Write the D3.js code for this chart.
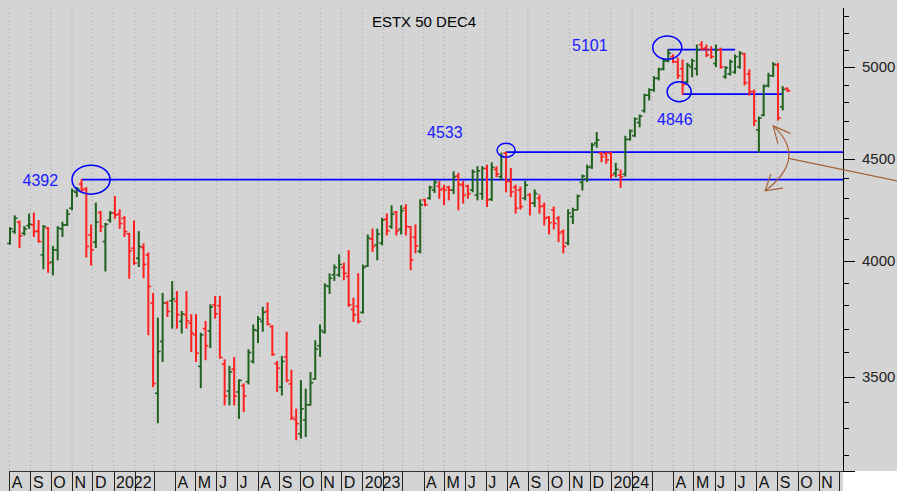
<!DOCTYPE html>
<meta charset="utf-8">
<html>
<style>
 body { margin:0; background:#fff; }
 svg { display:block; font-family:"Liberation Sans", Arial, sans-serif; }
</style>
<script src="https://d3js.org/d3.v7.min.js"></script>
<svg width="897" height="491"></svg>
<script>
// weekly bars, one per Monday from 2 Aug 2021 to 16 Sep 2024
const weeks = d3.timeMonday.range(new Date(2021, 7, 2), new Date(2024, 8, 17));

const openP = [4081,4137,4182,4129,4166,4169,4140,4028,4153,3994,
 4051,4149,4169,4250,4329,4370,4345,4121,4087,4229,
 4090,4193,4226,4221,4201,4126,4059,4012,4062,4028,
 3811,3435,3646,3811,3821,3818,3731,3760,3724,3674,
 3543,3700,3690,3803,3799,3552,3444,3532,3440,3465,
 3481,3563,3692,3731,3774,3709,3554,3459,3581,3472,
 3333,3278,3331,3389,3492,3628,3685,3884,3936,3936,
 3970,3929,3783,3796,3770,3977,4101,4075,4083,4196,
 4161,4231,4149,4250,4160,4110,4044,4291,4299,4340,
 4359,4347,4353,4340,4410,4364,4359,4340,4315,4322,
 4449,4294,4444,4407,4528,4383,4353,4340,4299,4315,
 4275,4299,4262,4206,4242,4201,4137,4083,4209,4242,
 4378,4396,4458,4581,4528,4524,4528,4424,4415,4420,
 4600,4620,4690,4755,4840,4870,4935,4990,5035,5060,
 5030,4990,4915,5000,4990,5130,5110,5100,5020,5100,
 4945,4960,4970,5000,5075,4960,4860,4651,4730,4895,
 4950,5010,4776,4878];
const highP = [4156,4213,4188,4161,4221,4226,4190,4166,4156,4067,
 4161,4182,4242,4345,4352,4392,4352,4169,4275,4234,
 4176,4234,4307,4242,4209,4129,4188,4137,4079,4037,
 3853,3745,3853,3818,3906,3861,3774,3861,3760,3760,
 3681,3731,3803,3840,3840,3570,3543,3579,3488,3472,
 3611,3716,3752,3792,3811,3713,3563,3584,3685,3527,
 3373,3485,3451,3518,3649,3716,3896,3941,3981,4028,
 3990,4048,3832,3941,3981,4121,4149,4149,4201,4222,
 4262,4234,4262,4267,4161,4169,4291,4294,4359,4388,
 4383,4364,4359,4432,4424,4383,4364,4441,4458,4458,
 4466,4478,4458,4528,4533,4449,4364,4355,4383,4322,
 4340,4315,4275,4209,4256,4209,4145,4242,4250,4315,
 4415,4466,4580,4637,4532,4532,4533,4475,4441,4617,
 4651,4715,4731,4846,4876,4945,4993,5045,5101,5070,
 5050,5040,5021,5045,5128,5147,5128,5118,5128,5109,
 5002,5040,5069,5089,5079,4983,4869,4720,4897,4964,
 5025,5021,4888,4880];
const lowP = [4078,4129,4062,4121,4153,4114,4087,3964,3948,3936,
 4005,4114,4166,4242,4307,4331,4018,3981,4062,4137,
 3954,4182,4201,4153,4114,3921,3984,3974,3923,3674,
 3461,3320,3563,3752,3702,3702,3681,3702,3604,3563,
 3457,3570,3620,3745,3577,3389,3389,3389,3337,3363,
 3472,3557,3641,3689,3716,3588,3442,3428,3481,3333,
 3256,3262,3268,3389,3491,3584,3681,3853,3911,3929,
 3914,3796,3731,3724,3767,3974,4044,4005,4075,4121,
 4153,4121,4126,4121,3959,4037,4037,4262,4294,4328,
 4299,4267,4291,4322,4242,4275,4299,4331,4291,4294,
 4258,4288,4407,4391,4331,4307,4226,4246,4291,4217,
 4258,4226,4169,4126,4150,4090,4037,4075,4176,4242,
 4340,4383,4449,4559,4484,4475,4400,4407,4353,4410,
 4597,4616,4667,4747,4814,4862,4926,4983,5030,5025,
 4935,4846,4909,4944,4954,5099,5060,5051,5002,4993,
 4936,4954,4964,4993,4898,4841,4674,4533,4726,4887,
 4945,4704,4759,4860];
const closeP = [4150,4201,4117,4150,4172,4137,4090,4161,3990,4051,
 4153,4169,4221,4335,4345,4340,4067,4051,4182,4161,
 4172,4226,4217,4176,4137,4047,3990,4067,3984,3884,
 3474,3604,3811,3774,3828,3760,3763,3734,3681,3597,
 3674,3628,3794,3763,3579,3424,3520,3424,3486,3424,
 3600,3695,3741,3770,3719,3592,3536,3563,3486,3340,
 3317,3374,3390,3477,3614,3692,3888,3921,3970,3984,
 3943,3803,3760,3731,3970,4106,4067,4126,4193,4141,
 4221,4141,4238,4161,4005,4070,4267,4267,4353,4378,
 4340,4340,4340,4407,4369,4315,4322,4432,4437,4449,
 4291,4454,4420,4510,4383,4331,4250,4258,4364,4275,
 4322,4258,4201,4180,4176,4129,4067,4226,4242,4310,
 4410,4454,4571,4597,4510,4493,4415,4444,4407,4600,
 4645,4710,4725,4840,4870,4935,4985,5035,5080,5030,
 4950,4900,5010,5035,5100,5105,5070,5060,5100,5000,
 4995,5030,5060,5080,4910,4860,4700,4715,4890,4950,
 5015,4715,4872,4865];

const majorTicks = [3500, 4000, 4500, 5000];
const minorTicks = [3200,3300,3400,3600,3700,3800,3900,4100,4200,4300,4400,4600,4700,4800,4900,5100,5200,5300];
const monthLetters = ["J","F","M","A","M","J","J","A","S","O","N","D"];

// drawn levels: price, first week index, last week index (null = run to axis)
const levels = [
  {price:4392, from:15, to:null, label:"4392"},
  {price:4533, from:104, to:null, label:"4533"},
  {price:5101, from:138, to:152, label:"5101"},
  {price:4846, from:141, to:162, label:"4846"}
];

const W = 897, H = 491;
const plotTop = 8, plotBottom = 471, axisX = 843;
const svg = d3.select('svg');

const x = d3.scaleTime()
  .domain([new Date(2021, 7, 1), new Date(2024, 11, 1)])
  .range([9.3, 839.3]);
const y = d3.scaleLog()
  .domain([3141, 5351])
  .range([plotBottom, plotTop]);

// background
svg.append('rect').attr('width', W).attr('height', H).attr('fill', '#d4d4d4');
svg.append('rect').attr('x', axisX).attr('y', plotBottom).attr('width', W - axisX).attr('height', H - plotBottom).attr('fill', '#fff');

const months = d3.timeMonth.range(new Date(2021, 7, 1), new Date(2024, 11, 1));

// dotted month grid
svg.append('g').selectAll('line').data(months).join('line')
  .attr('x1', d => x(d)).attr('x2', d => x(d))
  .attr('y1', plotTop).attr('y2', plotBottom)
  .attr('stroke', '#b9b9b9').attr('stroke-width', 1)
  .attr('stroke-dasharray', '2,2');

// month strip
const strip = svg.append('g');
strip.append('line')
  .attr('x1', x(months[0])).attr('x2', axisX)
  .attr('y1', plotBottom + 0.5).attr('y2', plotBottom + 0.5)
  .attr('stroke', '#333');
strip.selectAll('line.sep').data(months.concat([new Date(2024, 11, 1)])).join('line')
  .attr('class', 'sep')
  .attr('x1', d => Math.round(x(d)) + 0.5).attr('x2', d => Math.round(x(d)) + 0.5)
  .attr('y1', plotBottom).attr('y2', H)
  .attr('stroke', '#222');
strip.selectAll('text').data(months).join('text')
  .attr('x', d => x(d) + 2.5)
  .attr('y', 488)
  .attr('font-size', 16)
  .attr('fill', '#111')
  .text(d => {
    const m = d.getMonth();
    if (m === 0) return d.getFullYear();
    if (m === 1 || m === 2) return "";
    return monthLetters[m];
  });

// right axis
const axis = svg.append('g');
axis.append('line').attr('x1', axisX + 0.5).attr('x2', axisX + 0.5)
  .attr('y1', plotTop).attr('y2', plotBottom).attr('stroke', '#000');
axis.append('line').attr('x1', axisX).attr('x2', axisX + 12)
  .attr('y1', plotBottom + 0.5).attr('y2', plotBottom + 0.5).attr('stroke', '#000');
axis.selectAll('line.minor').data(minorTicks).join('line')
  .attr('class', 'minor')
  .attr('x1', axisX).attr('x2', axisX + 6)
  .attr('y1', d => Math.round(y(d)) + 0.5).attr('y2', d => Math.round(y(d)) + 0.5)
  .attr('stroke', '#000');
axis.selectAll('line.major').data(majorTicks).join('line')
  .attr('class', 'major')
  .attr('x1', axisX).attr('x2', axisX + 12)
  .attr('y1', d => Math.round(y(d)) + 0.5).attr('y2', d => Math.round(y(d)) + 0.5)
  .attr('stroke', '#000');
// labels squeezed a little so the whole number stays inside the window
axis.selectAll('text').data(majorTicks).join('text')
  .attr('x', 862)
  .attr('y', d => y(d) + 5.5)
  .attr('font-size', 15)
  .attr('fill', '#222')
  .text(d => d);

// title
svg.append('text')
  .attr('x', 424).attr('y', 27)
  .attr('text-anchor', 'middle')
  .attr('font-size', 15)
  .attr('fill', '#000')
  .text('ESTX 50 DEC4');

// level lines (under the bars)
const blue = '#0000ff';
svg.append('g').selectAll('line').data(levels).join('line')
  .attr('x1', d => x(weeks[d.from]))
  .attr('x2', d => d.to === null ? axisX : x(weeks[d.to]))
  .attr('y1', d => y(d.price)).attr('y2', d => y(d.price))
  .attr('stroke', blue).attr('stroke-width', 1.8);

// OHLC bars
const green = '#1f621f', red = '#ff2020';
const bars = svg.append('g');
weeks.forEach((w, i) => {
  const cx = x(w);
  const col = closeP[i] >= openP[i] ? green : red;
  const g = bars.append('g').attr('stroke', col);
  g.append('line').attr('x1', cx).attr('x2', cx)
    .attr('y1', y(highP[i]) - 0.5).attr('y2', y(lowP[i]) + 0.5)
    .attr('stroke-width', 2);
  g.append('line').attr('x1', cx - 2.8).attr('x2', cx)
    .attr('y1', y(openP[i])).attr('y2', y(openP[i]))
    .attr('stroke-width', 1.6);
  g.append('line').attr('x1', cx).attr('x2', cx + 2.8)
    .attr('y1', y(closeP[i])).attr('y2', y(closeP[i]))
    .attr('stroke-width', 1.6);
});

// circles round the levels, and their labels
const marks = [
  {lvl:0, dx:9.5, dy:0, rx:19, ry:14.5, tx:22.5, ty:186},
  {lvl:1, dx:0, dy:-2, rx:9, ry:7, tx:427, ty:138},
  {lvl:2, dx:-1, dy:-2, rx:14.5, ry:11.7, tx:572, ty:50.5},
  {lvl:3, dx:-3.4, dy:-2.5, rx:12, ry:10, tx:657, ty:124.5}
];
const notes = svg.append('g');
marks.forEach(m => {
  const L = levels[m.lvl];
  notes.append('ellipse')
    .attr('cx', x(weeks[L.from]) + m.dx)
    .attr('cy', y(L.price) + m.dy)
    .attr('rx', m.rx).attr('ry', m.ry)
    .attr('fill', 'none').attr('stroke', blue).attr('stroke-width', 1.5);
  notes.append('text')
    .attr('x', m.tx).attr('y', m.ty)
    .attr('font-size', 16)
    .attr('fill', '#1a1aff')
    .text(L.label);
});

// brown two-way arrow near the August low
const ax = x(weeks[157]), ay = y(4533);
const brown = '#a5623a';
const arrow = svg.append('g').attr('fill', 'none').attr('stroke', brown).attr('stroke-width', 1.2);
arrow.append('path')
  .attr('d', `M${ax+14.3},${ay-26.3} Q${ax+49.3},${ay+5.7} ${ax+6.3},${ay+38.7}`);
arrow.append('path')
  .attr('d', `M${ax+31.5},${ay-18.8} L${ax+14.3},${ay-26.3} L${ax+19},${ay-8.5}`);
arrow.append('path')
  .attr('d', `M${ax+12},${ay+21.7} L${ax+6.3},${ay+38.7} L${ax+24},${ay+36}`);
arrow.append('line')
  .attr('x1', ax + 29.8).attr('y1', ay + 6.2)
  .attr('x2', W).attr('y2', ay + 28.7);
</script>
</html>
